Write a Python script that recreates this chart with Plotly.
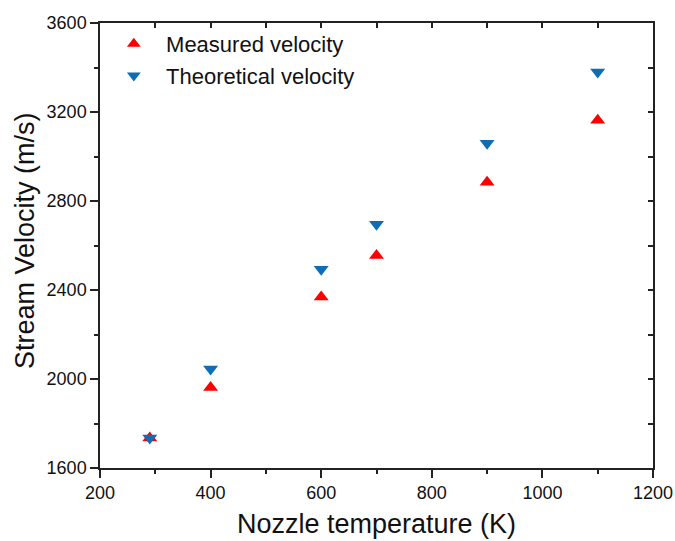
import plotly.graph_objects as go

temps = [290, 400, 600, 700, 900, 1100]
measured = [1735, 1962, 2368, 2555, 2884, 3163]
theoretical = [1735, 2045, 2493, 2696, 3060, 3380]

x_ticks = [200, 400, 600, 800, 1000, 1200]
y_ticks = [1600, 2000, 2400, 2800, 3200, 3600]

font = "Liberation Sans, Arial, sans-serif"
ink = "#222222"

fig = go.Figure()

fig.add_trace(
    go.Scatter(
        x=temps,
        y=measured,
        mode="markers",
        name="\u00a0\u00a0Measured velocity",
        marker=dict(symbol="triangle-up", size=13, color="#FF0000")
    )
)

fig.add_trace(
    go.Scatter(
        x=temps,
        y=theoretical,
        mode="markers",
        name="\u00a0\u00a0Theoretical velocity",
        marker=dict(symbol="triangle-down", size=13, color="#0F6DB5")
    )
)

# dummy trace so the mirrored (top/right) axes get drawn with inward ticks
fig.add_trace(
    go.Scatter(
        x=[None],
        y=[None],
        xaxis="x2",
        yaxis="y2",
        showlegend=False,
        hoverinfo="skip"
    )
)

axis_common = dict(
    showgrid=False,
    zeroline=False,
    showline=True,
    automargin=False,
    linecolor=ink,
    linewidth=1.5,
    tickwidth=1.5,
    tickcolor=ink,
)

fig.update_layout(
    width=675,
    height=541,
    margin=dict(l=100, r=22, t=23, b=73),
    paper_bgcolor="white",
    plot_bgcolor="white",
    font=dict(family=font, color="#111111"),
    showlegend=True,
    legend=dict(
        x=0.025,
        y=1.0,
        xanchor="left",
        yanchor="top",
        bgcolor="rgba(0,0,0,0)",
        font=dict(size=22, family=font),
        itemsizing="constant",
        tracegroupgap=0,
    ),
    xaxis=dict(
        range=[200, 1200],
        tickvals=x_ticks,
        ticks="outside",
        ticklen=8,
        tickfont=dict(size=18),
        minor=dict(dtick=100, ticks="outside", ticklen=4, tickwidth=1.5, tickcolor=ink),
        **axis_common
    ),
    yaxis=dict(
        range=[1600, 3600],
        tickvals=y_ticks,
        ticks="outside",
        ticklen=8,
        tickfont=dict(size=18),
        minor=dict(dtick=200, ticks="outside", ticklen=4, tickwidth=1.5, tickcolor=ink),
        **axis_common
    ),
    xaxis2=dict(
        range=[200, 1200],
        overlaying="x",
        side="top",
        anchor="y",
        tickvals=x_ticks,
        ticks="inside",
        ticklen=5,
        showticklabels=False,
        minor=dict(dtick=100, ticks="inside", ticklen=5, tickwidth=1.5, tickcolor=ink),
        **axis_common
    ),
    yaxis2=dict(
        range=[1600, 3600],
        overlaying="y",
        side="right",
        anchor="x",
        tickvals=y_ticks,
        ticks="inside",
        ticklen=5,
        showticklabels=False,
        minor=dict(dtick=200, ticks="inside", ticklen=5, tickwidth=1.5, tickcolor=ink),
        **axis_common
    ),
    annotations=[
        dict(
            text="Nozzle temperature (K)",
            xref="paper", yref="paper",
            x=0.5, y=0,
            xanchor="center", yanchor="middle",
            yshift=-56,
            showarrow=False,
            font=dict(size=27, family=font, color="#111111")
        ),
        dict(
            text="Stream Velocity (m/s)",
            xref="paper", yref="paper",
            x=0, y=0.51,
            xanchor="center", yanchor="middle",
            xshift=-75,
            textangle=-90,
            showarrow=False,
            font=dict(size=27, family=font, color="#111111")
        ),
    ],
)

# drop the default page margin so the figure sits at the window's corner
fig.write_html(
    "out.html",
    config={"displayModeBar": False},
    post_script="document.body.style.margin='0';document.body.style.overflow='hidden';"
)
